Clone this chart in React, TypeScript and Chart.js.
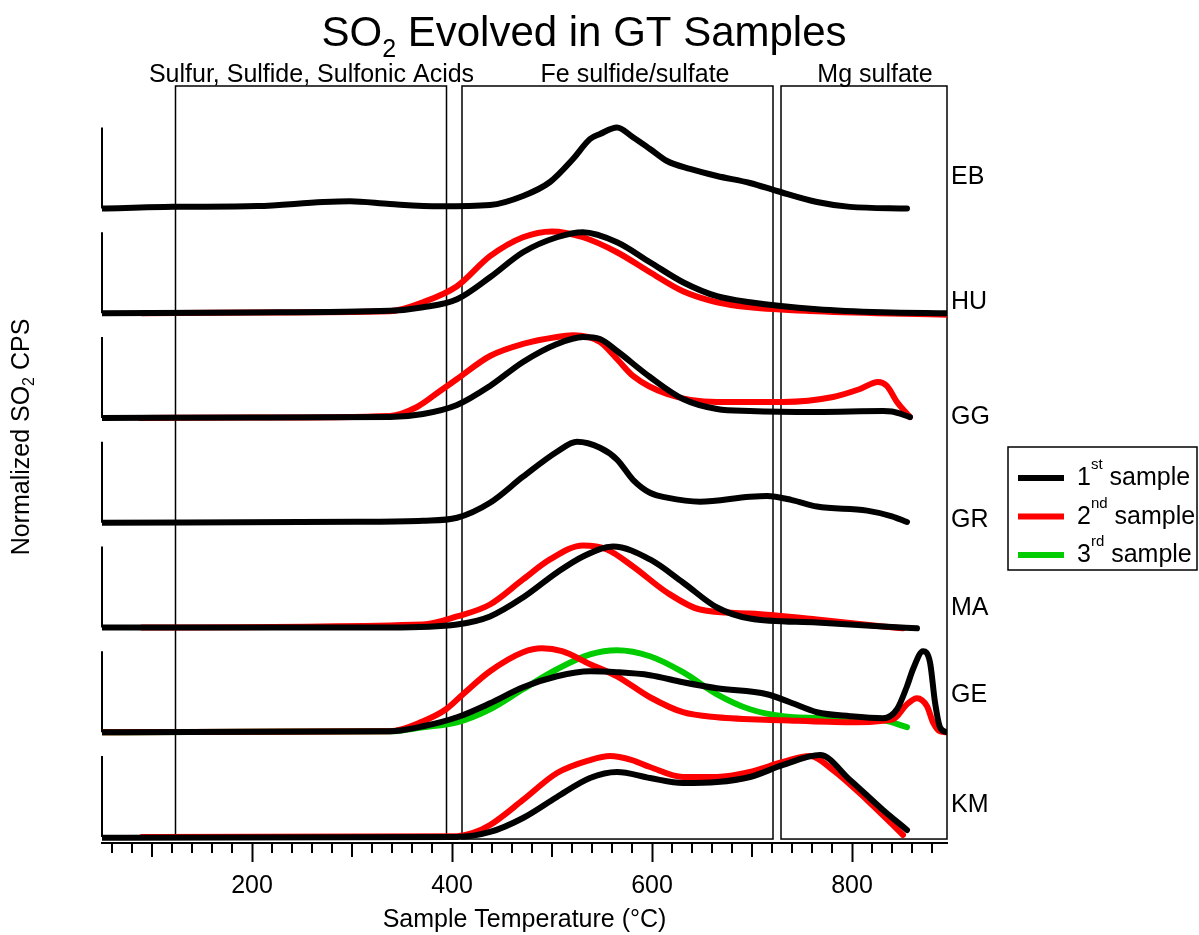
import React, { useEffect, useRef } from 'react';
import { Chart, registerables } from 'chart.js';

Chart.register(...registerables);

// ---------- data (temperature °C, normalized SO2 CPS) ----------
const PANELS = ['KM', 'GE', 'MA', 'GR', 'GG', 'HU', 'EB']; // bottom -> top
const SAMPLE_NAMES = ['1st sample', '2nd sample', '3rd sample'];
const X_MIN = 50;
const X_MAX = 895;
const X_TICKS = [200, 400, 600, 800];

const BOX_LABELS = ['Sulfur, Sulfide, Sulfonic Acids', 'Fe sulfide/sulfate', 'Mg sulfate'];
const BOX_STARTS = [123.5, 410, 729];
const BOX_ENDS = [394.5, 721, 895];
const BOX_LABEL_CENTERS = [259.5, 583, 823];

const EB1_T = [50, 121, 205, 271, 298, 338, 388, 438, 471, 498, 521, 538, 548, 565, 581, 598, 615, 638, 665, 698, 725, 765, 798, 855];
const EB1_V = [0, 0.02, 0.03, 0.08, 0.09, 0.055, 0.027, 0.043, 0.154, 0.327, 0.611, 0.858, 0.92, 1.0, 0.88, 0.735, 0.586, 0.488, 0.401, 0.315, 0.216, 0.08, 0.02, 0.0];

const HU1_T = [50, 200, 338, 371, 405, 438, 471, 505, 531, 565, 598, 631, 665, 698, 765, 831, 895];
const HU1_V = [0, 0.01, 0.03, 0.074, 0.173, 0.444, 0.753, 0.938, 1.0, 0.877, 0.63, 0.383, 0.21, 0.136, 0.05, 0.012, 0];
const HU2_T = [90, 200, 338, 371, 405, 438, 471, 500, 531, 565, 598, 631, 665, 698, 765, 895];
const HU2_V = [0, 0.01, 0.025, 0.136, 0.333, 0.704, 0.938, 1.01, 0.938, 0.753, 0.506, 0.272, 0.136, 0.074, 0.025, -0.02];

const GG1_T = [50, 200, 338, 371, 405, 438, 471, 505, 531, 548, 565, 598, 631, 665, 698, 765, 831, 840, 858];
const GG1_V = [0, 0.005, 0.012, 0.049, 0.16, 0.395, 0.691, 0.913, 1.0, 0.975, 0.827, 0.506, 0.235, 0.111, 0.086, 0.074, 0.086, 0.08, 0.012];
const GG2_T = [88, 200, 338, 365, 388, 405, 438, 471, 505, 521, 548, 565, 581, 615, 665, 731, 781, 808, 826, 835, 845, 858];
const GG2_V = [0, 0.005, 0.025, 0.136, 0.333, 0.481, 0.765, 0.914, 1.0, 1.02, 0.938, 0.728, 0.519, 0.296, 0.198, 0.198, 0.259, 0.358, 0.444, 0.395, 0.198, 0.012];

const GR1_T = [50, 305, 371, 405, 438, 471, 505, 525, 548, 565, 581, 598, 615, 648, 698, 715, 740, 765, 815, 840, 855];
const GR1_V = [0, 0.012, 0.025, 0.062, 0.247, 0.568, 0.877, 1.0, 0.926, 0.78, 0.53, 0.37, 0.31, 0.26, 0.32, 0.33, 0.28, 0.2, 0.15, 0.08, 0.01];

const MA1_T = [50, 338, 405, 438, 471, 505, 531, 561, 598, 631, 665, 698, 765, 831, 865];
const MA1_V = [0, 0, 0.037, 0.136, 0.37, 0.679, 0.877, 1.0, 0.84, 0.556, 0.247, 0.111, 0.062, 0.012, -0.01];
const MA2_T = [90, 371, 405, 438, 471, 498, 531, 555, 581, 615, 648, 698, 765, 831, 851];
const MA2_V = [0, 0.037, 0.136, 0.284, 0.593, 0.84, 1.012, 0.963, 0.753, 0.432, 0.222, 0.173, 0.099, 0.012, -0.01];

const GE1_T = [50, 338, 371, 405, 438, 471, 505, 538, 565, 598, 631, 665, 715, 738, 765, 798, 831, 845, 855, 861, 871, 878, 883, 888, 895];
const GE1_V = [0, 0.012, 0.074, 0.185, 0.358, 0.556, 0.691, 0.753, 0.741, 0.704, 0.617, 0.543, 0.469, 0.37, 0.247, 0.198, 0.173, 0.284, 0.568, 0.778, 1.0, 0.864, 0.37, 0.062, 0];
const GE2_T = [50, 338, 371, 394, 411, 438, 471, 490, 510, 538, 565, 598, 631, 665, 731, 798, 841, 855, 865, 875, 881, 888, 895];
const GE2_V = [0, 0.012, 0.136, 0.284, 0.47, 0.753, 0.988, 1.037, 1.0, 0.84, 0.691, 0.432, 0.247, 0.185, 0.148, 0.123, 0.16, 0.346, 0.42, 0.321, 0.123, 0.012, 0];
const GE3_T = [50, 338, 371, 405, 438, 471, 505, 538, 565, 598, 631, 665, 698, 731, 781, 831, 855];
const GE3_V = [0, 0.012, 0.062, 0.123, 0.284, 0.531, 0.778, 0.96, 1.012, 0.938, 0.741, 0.469, 0.284, 0.198, 0.173, 0.148, 0.062];

const KM1_T = [50, 405, 438, 471, 505, 538, 565, 598, 631, 665, 698, 731, 768, 798, 831, 855];
const KM1_V = [-0.01, 0, 0.062, 0.235, 0.494, 0.728, 0.802, 0.728, 0.667, 0.679, 0.741, 0.889, 1.012, 0.704, 0.333, 0.086];
const KM2_T = [90, 405, 421, 438, 471, 505, 538, 558, 580, 598, 631, 665, 698, 731, 758, 781, 815, 851];
const KM2_V = [0, 0.01, 0.05, 0.148, 0.457, 0.79, 0.95, 1.0, 0.95, 0.864, 0.741, 0.741, 0.802, 0.926, 1.0, 0.827, 0.457, 0.025];

const SERIES = [
  { panel: 'EB', sample: 0, t: EB1_T, v: EB1_V },
  { panel: 'HU', sample: 0, t: HU1_T, v: HU1_V },
  { panel: 'HU', sample: 1, t: HU2_T, v: HU2_V },
  { panel: 'GG', sample: 0, t: GG1_T, v: GG1_V },
  { panel: 'GG', sample: 1, t: GG2_T, v: GG2_V },
  { panel: 'GR', sample: 0, t: GR1_T, v: GR1_V },
  { panel: 'MA', sample: 0, t: MA1_T, v: MA1_V },
  { panel: 'MA', sample: 1, t: MA2_T, v: MA2_V },
  { panel: 'GE', sample: 0, t: GE1_T, v: GE1_V },
  { panel: 'GE', sample: 1, t: GE2_T, v: GE2_V },
  { panel: 'GE', sample: 2, t: GE3_T, v: GE3_V },
  { panel: 'KM', sample: 0, t: KM1_T, v: KM1_V },
  { panel: 'KM', sample: 1, t: KM2_T, v: KM2_V },
];

// ---------- layout / style ----------
const PANEL_STEP = 1.293;
const Y_MIN = -0.074;
const Y_MAX = 9.27;
const BOX_BOTTOM = -0.025;
const X_AXIS_HEIGHT = 92;
const LABEL_LEVEL: Record<string, number> = { EB: 0.3, HU: 0.05, GG: -0.07, GR: -0.05, MA: 0.15, GE: 0.37, KM: 0.31 };
const COLORS = ['#000000', '#ff0000', '#00cc00'];
const FONT = "'Liberation Sans', Arial, sans-serif";
const f = (s: number) => `${s}px ${FONT}`;

type Part = { text: string; size: number; dy?: number };

function richWidth(ctx: CanvasRenderingContext2D, parts: Part[]) {
  let w = 0;
  parts.forEach((p) => {
    ctx.font = f(p.size);
    w += ctx.measureText(p.text).width;
  });
  return w;
}

function drawRich(ctx: CanvasRenderingContext2D, parts: Part[], x: number, y: number, align: 'left' | 'center') {
  const w = richWidth(ctx, parts);
  let cx = align === 'center' ? x - w / 2 : x;
  ctx.textAlign = 'left';
  ctx.textBaseline = 'alphabetic';
  parts.forEach((p) => {
    ctx.font = f(p.size);
    ctx.fillText(p.text, cx, y + (p.dy || 0));
    cx += ctx.measureText(p.text).width;
  });
}

const overlayPlugin = {
  id: 'overlay',
  beforeDatasetsDraw(chart: any) {
    const { ctx, chartArea } = chart;
    const x = chart.scales.x;
    const y = chart.scales.y;
    ctx.save();
    ctx.strokeStyle = '#000';
    // region boxes
    ctx.lineWidth = 1.5;
    BOX_STARTS.forEach((a, i) => {
      const x0 = x.getPixelForValue(a);
      const x1 = x.getPixelForValue(BOX_ENDS[i]);
      const y0 = chartArea.top;
      const y1 = y.getPixelForValue(BOX_BOTTOM);
      ctx.strokeRect(x0, y0, x1 - x0, y1 - y0);
    });
    // per-panel vertical axes
    ctx.lineWidth = 2;
    const ax = x.getPixelForValue(X_MIN);
    PANELS.forEach((_, i) => {
      ctx.beginPath();
      ctx.moveTo(ax, y.getPixelForValue(i * PANEL_STEP));
      ctx.lineTo(ax, y.getPixelForValue(i * PANEL_STEP + 1));
      ctx.stroke();
    });
    // minor / medium tick marks
    x.ticks.forEach((tk: any) => {
      const v = tk.value;
      if (v % 200 === 0) return;
      const len = v % 100 === 0 ? 14 : 10;
      const px = Math.round(x.getPixelForValue(v));
      ctx.beginPath();
      ctx.moveTo(px, chartArea.bottom);
      ctx.lineTo(px, chartArea.bottom + len);
      ctx.stroke();
    });
    ctx.restore();
  },
  afterDraw(chart: any) {
    const { ctx, chartArea } = chart;
    const x = chart.scales.x;
    const y = chart.scales.y;
    ctx.save();
    ctx.fillStyle = '#000';
    // title
    drawRich(ctx, [
      { text: 'SO', size: 42 },
      { text: '2', size: 25, dy: 11 },
      { text: ' Evolved in GT Samples', size: 42 },
    ], 584, 46, 'center');
    // box labels
    BOX_LABELS.forEach((t, i) => {
      drawRich(ctx, [{ text: t, size: 25 }], x.getPixelForValue(BOX_LABEL_CENTERS[i]), chartArea.top - 4, 'center');
    });
    // panel labels
    PANELS.forEach((p, i) => {
      drawRich(ctx, [{ text: p, size: 25 }], chartArea.right + 4, y.getPixelForValue(i * PANEL_STEP + LABEL_LEVEL[p]), 'left');
    });
    // y axis label
    ctx.save();
    ctx.translate(29, 437);
    ctx.rotate(-Math.PI / 2);
    drawRich(ctx, [
      { text: 'Normalized SO', size: 25 },
      { text: '2', size: 16, dy: 5 },
      { text: ' CPS', size: 25 },
    ], 0, 0, 'center');
    ctx.restore();
    // legend
    ctx.strokeStyle = '#000';
    ctx.lineWidth = 1.5;
    ctx.strokeRect(1008, 447, 189, 123);
    const sups = ['st', 'nd', 'rd'];
    SAMPLE_NAMES.forEach((name, i) => {
      const ly = 478 + i * 38.5;
      ctx.strokeStyle = COLORS[i];
      ctx.lineWidth = 6;
      ctx.beginPath();
      ctx.moveTo(1018, ly);
      ctx.lineTo(1064, ly);
      ctx.stroke();
      drawRich(ctx, [
        { text: name.charAt(0), size: 25 },
        { text: sups[i], size: 15, dy: -16 },
        { text: name.slice(3), size: 25 },
      ], 1077, ly + 7, 'left');
    });
    ctx.restore();
  },
};

const datasets = SERIES
  .map((s) => ({ ...s, idx: PANELS.indexOf(s.panel) }))
  .sort((a, b) => a.sample - b.sample)
  .map((s) => ({
    label: `${s.panel} ${SAMPLE_NAMES[s.sample]}`,
    data: s.t.map((t, i) => ({ x: t, y: s.v[i] + s.idx * PANEL_STEP })),
    borderColor: COLORS[s.sample],
    backgroundColor: COLORS[s.sample],
    borderWidth: 6,
    pointRadius: 0,
    cubicInterpolationMode: 'monotone' as const,
    borderCapStyle: 'round' as const,
    borderJoinStyle: 'round' as const,
    fill: false,
  }));

export default function App() {
  const ref = useRef<HTMLCanvasElement>(null);
  useEffect(() => {
    if (!ref.current) return;
    Chart.defaults.font.family = FONT;
    Chart.defaults.color = '#000';
    const chart = new Chart(ref.current, {
      type: 'line',
      data: { datasets },
      options: {
        animation: false,
        responsive: false,
        devicePixelRatio: 1,
        layout: { padding: { left: 102, right: 252, top: 86, bottom: 0 } },
        plugins: { legend: { display: false }, tooltip: { enabled: false }, title: { display: false } },
        scales: {
          x: {
            type: 'linear',
            min: X_MIN,
            max: X_MAX,
            afterBuildTicks: (scale: any) => {
              const ticks = [];
              for (let v = 60; v <= 880; v += 20) ticks.push({ value: v });
              scale.ticks = ticks;
            },
            afterFit: (scale: any) => {
              scale.height = X_AXIS_HEIGHT;
            },
            ticks: {
              autoSkip: false,
              maxRotation: 0,
              padding: 9,
              font: { size: 25 },
              color: '#000',
              callback: (v: any) => (X_TICKS.includes(Number(v)) ? String(v) : ''),
            },
            grid: {
              drawOnChartArea: false,
              drawTicks: true,
              tickLength: 19,
              tickWidth: 2,
              tickColor: (c: any) => (c.tick && X_TICKS.includes(c.tick.value) ? '#000' : 'rgba(0,0,0,0)'),
            },
            border: { display: true, color: '#000', width: 2 },
            title: {
              display: true,
              text: 'Sample Temperature (°C)',
              font: { size: 25 },
              color: '#000',
              padding: { top: 0, bottom: 0 },
            },
          },
          y: { type: 'linear', min: Y_MIN, max: Y_MAX, display: false },
        },
      },
      plugins: [overlayPlugin],
    });
    return () => chart.destroy();
  }, []);
  return (
    <div style={{ position: 'absolute', left: 0, top: 0, width: 1199, height: 935, background: '#fff' }}>
      <canvas ref={ref} width={1199} height={935} style={{ display: 'block', width: 1199, height: 935 }} />
    </div>
  );
}
